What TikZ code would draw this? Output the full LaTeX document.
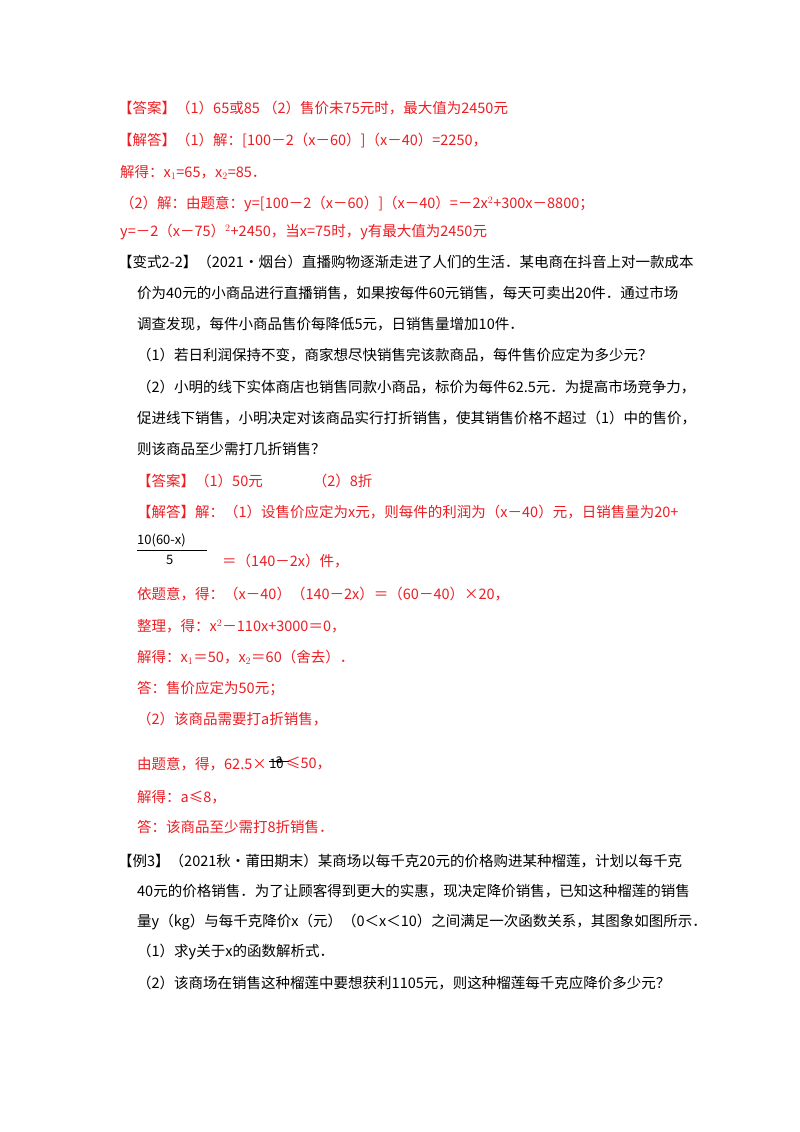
\documentclass[tikz,border=0pt]{standalone}
\usepackage{fontspec}
\usetikzlibrary{calc}
\setmainfont{Noto Sans CJK SC}
\begin{document}
\begin{tikzpicture}[x=1pt,y=-1pt,
  t/.style={anchor=west,inner sep=0pt,font=\fontsize{14.5}{15}\selectfont},
  r/.style={t,text=cred}]
\definecolor{cred}{RGB}{236,30,36}
\useasboundingbox (0,0) rectangle (800,1132);
\fill[white] (0,0) rectangle (800,1132);
\node[r] (l1) at (118,108) {【答案】（1）65或85 （2）售价未75元时，最大值为2450元};
\node[r] (l2) at (118,141) {【解答】（1）解：[100－2（x－60）]（x－40）=2250，};
\node[r] (l3) at (120,172) {解得：x$_1$=65，x$_2$=85．};
\node[r] (l4) at (120,204) {（2）解：由题意：y=[100－2（x－60）]（x－40）=－2x$^2$+300x－8800；};
\node[r] (l5) at (120,232) {y=－2（x－75）$^2$+2450，当x=75时，y有最大值为2450元};
\node[t] (l6) at (118,262) {【变式2-2】（2021•烟台）直播购物逐渐走进了人们的生活．某电商在抖音上对一款成本};
\node[t] (l7) at (137,293) {价为40元的小商品进行直播销售，如果按每件60元销售，每天可卖出20件．通过市场};
\node[t] (l8) at (137,324) {调查发现，每件小商品售价每降低5元，日销售量增加10件．};
\node[t] (l9) at (137,355) {（1）若日利润保持不变，商家想尽快销售完该款商品，每件售价应定为多少元？};
\node[t] (l10) at (137,387) {（2）小明的线下实体商店也销售同款小商品，标价为每件62.5元．为提高市场竞争力，};
\node[t] (l11) at (137,418) {促进线下销售，小明决定对该商品实行打折销售，使其销售价格不超过（1）中的售价，};
\node[t] (l12) at (137,449) {则该商品至少需打几折销售？};
\node[r] (l13) at (137,481) {【答案】（1）50元\hspace{50pt}（2）8折};
\node[r] (l14) at (137,512) {【解答】解：（1）设售价应定为\textit{x}元，则每件的利润为（\textit{x}－40）元，日销售量为20+};
\node[t,font=\fontsize{13}{13}\selectfont] (f1) at (137,540) {10(60-x)};
\draw (f1.south west) ++(0,3) -- ++(70,0) coordinate (fe);
\node[t,font=\fontsize{13}{13}\selectfont] (f2) at (166,560) {5};
\node[r] (l15) at (222,561) {＝（140－2\textit{x}）件，};
\node[r] (l16) at (137,594) {依题意，得：（\textit{x}－40）（140－2\textit{x}）＝（60－40）×20，};
\node[r] (l17) at (137,626) {整理，得：\textit{x}$^2$－110\textit{x}+3000＝0，};
\node[r] (l18) at (137,657) {解得：\textit{x}$_1$＝50，\textit{x}$_2$＝60（舍去）．};
\node[r] (l19) at (137,689) {答：售价应定为50元；};
\node[r] (l20) at (137,719) {（2）该商品需要打\textit{a}折销售，};
\node[r] (l21) at (137,764) {由题意，得，62.5×};
\node[t,font=\fontsize{13}{13}\selectfont,anchor=west] (ten) at ([xshift=2pt]l21.east) {10};
\draw ([yshift=-3pt]ten.north west) ++(0,-1) coordinate (fl) -- ++(20,0) coordinate (fr);
\node[font=\fontsize{12}{12}\selectfont,inner sep=0pt,anchor=south] (a) at ([yshift=-3pt]$(fl)!0.5!(fr)$) {a};
\node[r] (l21b) at ([xshift=2pt]ten.east) {≤50，};
\node[r] (l22) at (137,797) {解得：\textit{a}≤8，};
\node[r] (l23) at (137,827) {答：该商品至少需打8折销售．};
\node[t] (l24) at (118,861) {【例3】（2021秋•莆田期末）某商场以每千克20元的价格购进某种榴莲，计划以每千克};
\node[t] (l25) at (137,891) {40元的价格销售．为了让顾客得到更大的实惠，现决定降价销售，已知这种榴莲的销售};
\node[t] (l26) at (137,922) {量\textit{y}（\textit{kg}）与每千克降价\textit{x}（元）（0＜\textit{x}＜10）之间满足一次函数关系，其图象如图所示．};
\node[t] (l27) at (137,952) {（1）求\textit{y}关于\textit{x}的函数解析式．};
\node[t] (l28) at (137,983) {（2）该商场在销售这种榴莲中要想获利1105元，则这种榴莲每千克应降价多少元？};
\end{tikzpicture}
\end{document}
